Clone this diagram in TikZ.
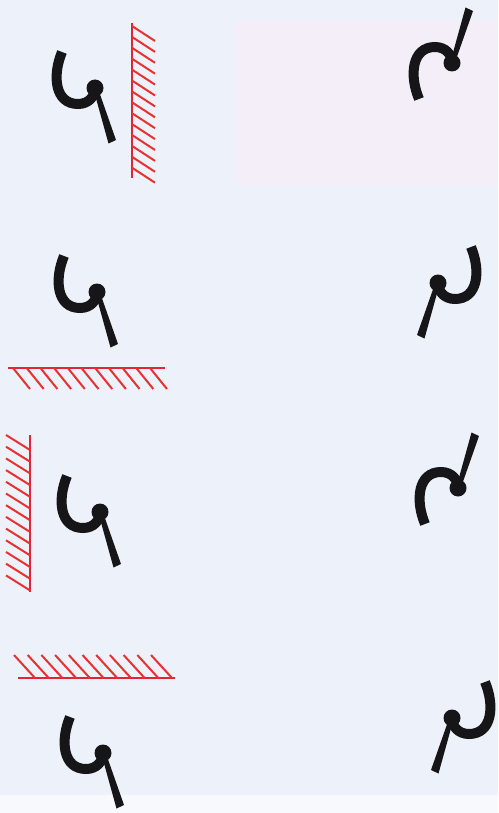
\documentclass[tikz,border=0pt]{standalone}
\begin{document}
\begin{tikzpicture}[x=1pt,y=-1pt,
  mirrorline/.style={draw=mirrorred,line width=2.2pt},
  hatchline/.style={draw=mirrorred!85!orange,line width=2pt},
  glyph/.pic={
    \draw[ink,line width=10pt,line cap=butt]
      (-33,-36) .. controls (-43,-12) and (-40,16) .. (-17,16)
      .. controls (-6,16) and (0,8) .. (0,0);
    \fill[ink] (0,0) circle (8.5);
    \fill[ink] (-0.5,5) -- (4,3.5) -- (21,52) -- (13.5,55.5) -- cycle;
  }]
\definecolor{bg}{RGB}{237,241,250}
\definecolor{pinkish}{RGB}{243,238,248}
\definecolor{ink}{RGB}{22,22,24}
\definecolor{mirrorred}{RGB}{226,36,58}
\useasboundingbox (0,0) rectangle (498,813);
\fill[bg] (0,0) rectangle (498,813);
\fill[pinkish] (235,20) rectangle (498,185);
\fill[white!60!bg] (0,795) rectangle (498,813);

% row 1: vertical mirror on the right
\draw[mirrorline] (132,23) -- (132,178);
\foreach \i in {0,...,13} \draw[hatchline] (132,{26+\i*10.9}) -- ++(23,15);
\pic at (95,88) {glyph};
\pic[yscale=-1] at (452,63) {glyph};

% row 2: horizontal mirror below
\draw[mirrorline] (8,368) -- (165,368);
\foreach \i in {0,...,10} \draw[hatchline] ({13+\i*13.7},368) -- ++(17,21);
\pic at (97,292) {glyph};
\pic[xscale=-1] at (438,283) {glyph};

% row 3: vertical mirror on the left
\draw[mirrorline] (30,435) -- (30,592);
\foreach \i in {0,...,12} \draw[hatchline] (30,{450+\i*11.7}) -- ++(-24,-15);
\pic at (100,512) {glyph};
\pic[yscale=-1] at (458,488) {glyph};

% row 4: horizontal mirror above
\draw[mirrorline] (18,678) -- (175,678);
\foreach \i in {0,...,10} \draw[hatchline] ({35+\i*13.7},678) -- ++(-21,-23);
\pic at (103,753) {glyph};
\pic[xscale=-1] at (452,718) {glyph};
\end{tikzpicture}
\end{document}
